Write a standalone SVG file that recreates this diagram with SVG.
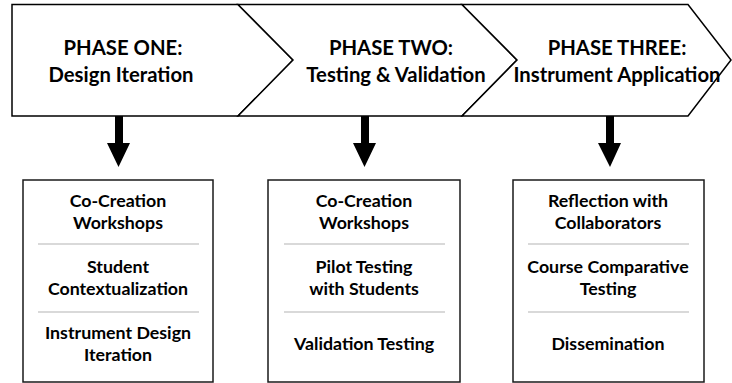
<svg xmlns="http://www.w3.org/2000/svg" width="732" height="383" viewBox="0 0 732 383">
<defs>
<style>
.chev{fill:#fff;stroke:#000;stroke-width:1.5;stroke-linejoin:miter}
.box{fill:#fff;stroke:#1a1a1a;stroke-width:1.5}
.sep{stroke:#b4b4b4;stroke-width:1.2}
.h{font-family:Lato,"Liberation Sans",sans-serif;font-weight:bold;font-size:20.3px;fill:#000;text-anchor:middle}
.t{font-family:Lato,"Liberation Sans",sans-serif;font-weight:bold;font-size:17.8px;fill:#000;text-anchor:middle}
.shaft{fill:#000}
</style>
</defs>
<rect width="732" height="383" fill="#fff"/>
<g id="phase1">
<polygon class="chev" points="12,4.5 238,4.5 293,60 238,116 12,116"/>
<text class="h" x="123" y="55">PHASE ONE:</text>
<text class="h" x="121" y="82">Design Iteration</text>
</g>
<g id="phase2">
<polygon class="chev" points="238,4.5 462,4.5 517,60 462,116 238,116 293,60"/>
<text class="h" x="391" y="55">PHASE TWO:</text>
<text class="h" x="396" y="82">Testing &amp; Validation</text>
</g>
<g id="phase3">
<polygon class="chev" points="462,4.5 688,4.5 731,60 688,116 462,116 517,60"/>
<text class="h" x="617" y="55">PHASE THREE:</text>
<text class="h" x="617" y="82">Instrument Application</text>
</g>
<g id="connectors">
<path class="shaft" d="M115,116 H123 V143 H130 L118.5,167 L107,143 H115 Z"/>
<path class="shaft" d="M361,116 H369 V143 H376 L364.5,167 L353,143 H361 Z"/>
<path class="shaft" d="M606,116 H614 V143 H621 L610,167 L598,143 H606 Z"/>
</g>
<g id="box1">
<rect class="box" x="23" y="180" width="190" height="202"/>
<text class="t" x="118" y="207">Co-Creation</text>
<text class="t" x="118" y="229">Workshops</text>
<line class="sep" x1="38" y1="244" x2="199" y2="244"/>
<text class="t" x="118" y="273">Student</text>
<text class="t" x="118" y="295">Contextualization</text>
<line class="sep" x1="38" y1="312" x2="199" y2="312"/>
<text class="t" x="118" y="339">Instrument Design</text>
<text class="t" x="118" y="361">Iteration</text>
</g>
<g id="box2">
<rect class="box" x="268" y="180" width="192" height="202"/>
<text class="t" x="364" y="207">Co-Creation</text>
<text class="t" x="364" y="229">Workshops</text>
<line class="sep" x1="284" y1="244" x2="445" y2="244"/>
<text class="t" x="364" y="273">Pilot Testing</text>
<text class="t" x="364" y="295">with Students</text>
<line class="sep" x1="284" y1="312" x2="445" y2="312"/>
<text class="t" x="364" y="350">Validation Testing</text>
</g>
<g id="box3">
<rect class="box" x="513" y="180" width="191" height="202"/>
<text class="t" x="608" y="207">Reflection with</text>
<text class="t" x="608" y="229">Collaborators</text>
<line class="sep" x1="528" y1="244" x2="689" y2="244"/>
<text class="t" x="608" y="273">Course Comparative</text>
<text class="t" x="608" y="295">Testing</text>
<line class="sep" x1="528" y1="312" x2="689" y2="312"/>
<text class="t" x="608" y="350">Dissemination</text>
</g>
</svg>
